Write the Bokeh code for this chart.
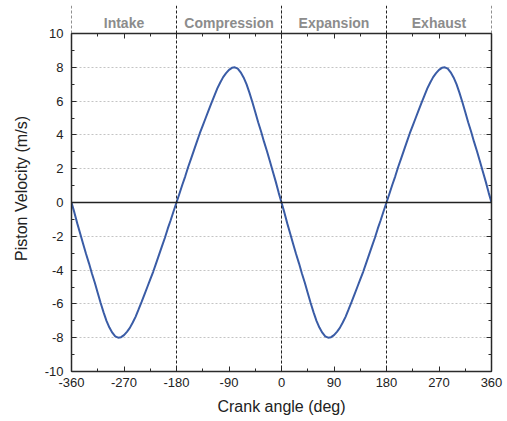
from bokeh.plotting import figure
from bokeh.models import (Range1d, LinearAxis, SingleIntervalTicker, FixedTicker,
                          Span, CustomJSTickFormatter)
from bokeh.core.properties import value
from bokeh.embed import file_html
from bokeh.resources import INLINE

# ---- data ----
stroke_names = ["Intake", "Compression", "Expansion", "Exhaust"]
stroke_centers = [-270, -90, 90, 270]
stroke_bounds = [-360, -180, 0, 180, 360]

# crank angle sampled every 5 deg
intake_angle = list(range(-360, -179, 5))      # -360 .. -180
compression_angle = list(range(-175, 1, 5))    # -175 .. 0
expansion_angle = list(range(5, 181, 5))       # 5 .. 180
exhaust_angle = list(range(185, 361, 5))       # 185 .. 360

intake_vel = [0, -0.6, -1.25, -1.85, -2.45, -3.05, -3.6, -4.2, -4.75, -5.35,
              -5.95, -6.5, -7.0, -7.4, -7.7, -7.92, -8.0, -7.97, -7.85, -7.65,
              -7.42, -7.1, -6.75, -6.33, -5.9, -5.45, -5.0, -4.55, -4.1, -3.6,
              -3.1, -2.6, -2.1, -1.55, -1.05, -0.52, 0]
compression_vel = [0.52, 1.05, 1.55, 2.1, 2.6, 3.1, 3.6, 4.1, 4.55, 5.0,
                   5.45, 5.9, 6.33, 6.75, 7.1, 7.42, 7.65, 7.85, 7.97, 8.0,
                   7.92, 7.7, 7.4, 7.0, 6.5, 5.95, 5.35, 4.75, 4.2, 3.6,
                   3.05, 2.45, 1.85, 1.25, 0.6, 0]
expansion_vel = [-0.6, -1.25, -1.85, -2.45, -3.05, -3.6, -4.2, -4.75, -5.35,
                 -5.95, -6.5, -7.0, -7.4, -7.7, -7.92, -8.0, -7.97, -7.85, -7.65,
                 -7.42, -7.1, -6.75, -6.33, -5.9, -5.45, -5.0, -4.55, -4.1, -3.6,
                 -3.1, -2.6, -2.1, -1.55, -1.05, -0.52, 0]
exhaust_vel = [0.52, 1.05, 1.55, 2.1, 2.6, 3.1, 3.6, 4.1, 4.55, 5.0,
               5.45, 5.9, 6.33, 6.75, 7.1, 7.42, 7.65, 7.85, 7.97, 8.0,
               7.92, 7.7, 7.4, 7.0, 6.5, 5.95, 5.35, 4.75, 4.2, 3.6,
               3.05, 2.45, 1.85, 1.25, 0.6, 0]

angle = intake_angle + compression_angle + expansion_angle + exhaust_angle
velocity = intake_vel + compression_vel + expansion_vel + exhaust_vel

FONT = "Liberation Sans"
EDGE = "#2b2b2b"
Y_MIN, Y_MAX = -10, 10
# extra headroom above the box for the stroke names (28 px of a 338 px box)
Y_TOP = Y_MAX + 28 * (Y_MAX - Y_MIN) / 338.0
NAME_Y = Y_MAX + 11 * (Y_MAX - Y_MIN) / 338.0

p = figure(width=507, height=421, x_range=Range1d(-360, 360),
           y_range=Range1d(Y_MIN, Y_TOP),
           output_backend="svg", toolbar_location=None,
           min_border_left=71, min_border_right=16,
           min_border_top=5, min_border_bottom=50)
p.outline_line_color = None

xt = SingleIntervalTicker(interval=90, num_minor_ticks=2)
yt = SingleIntervalTicker(interval=2, num_minor_ticks=2)
p.xaxis.ticker = xt
p.yaxis.ticker = yt
p.xgrid.ticker = xt
p.ygrid.ticker = yt
p.yaxis.bounds = (Y_MIN, Y_MAX)
p.xgrid.bounds = (Y_MIN, Y_MAX)

plain = CustomJSTickFormatter(code="return tick.toString();")
blank = CustomJSTickFormatter(code="return '';")

for ax in (p.xaxis[0], p.yaxis[0]):
    ax.formatter = plain
    ax.major_tick_in = 5
    ax.major_tick_out = 0
    ax.minor_tick_in = 3
    ax.minor_tick_out = 0
    ax.major_tick_line_color = EDGE
    ax.minor_tick_line_color = EDGE
    ax.axis_line_color = EDGE
    ax.axis_line_width = 1.5
    ax.major_label_text_font = FONT
    ax.major_label_text_font_size = "13px"
    ax.major_label_text_color = "#222222"
    ax.axis_label_text_font = FONT
    ax.axis_label_text_font_size = "16px"
    ax.axis_label_text_font_style = "normal"
    ax.axis_label_text_color = "#222222"

p.xaxis.axis_label = "Crank angle (deg)"
p.yaxis.axis_label = "Piston Velocity (m/s)"
p.xaxis.major_label_standoff = 6
p.xaxis.axis_label_standoff = 8
p.yaxis.major_label_standoff = 8
p.yaxis.axis_label_standoff = 12

# top edge of the box: an axis fixed at y = 10 with inward ticks
top_ax = LinearAxis(ticker=xt, formatter=blank, fixed_location=Y_MAX,
                    major_label_text_font_size="1px", major_label_standoff=0,
                    major_tick_in=5, major_tick_out=0,
                    minor_tick_in=3, minor_tick_out=0,
                    major_tick_line_color=EDGE, minor_tick_line_color=EDGE,
                    axis_line_color=EDGE, axis_line_width=1.5)
p.add_layout(top_ax, "above")

right_ax = LinearAxis(ticker=yt, formatter=blank, bounds=(Y_MIN, Y_MAX),
                      major_label_text_font_size="1px", major_label_standoff=0,
                      major_tick_in=5, major_tick_out=0,
                      minor_tick_in=3, minor_tick_out=0,
                      major_tick_line_color=EDGE, minor_tick_line_color=EDGE,
                      axis_line_color=EDGE, axis_line_width=1.5)
p.add_layout(right_ax, "right")

p.xgrid.grid_line_color = "#c4c4c4"
p.xgrid.grid_line_dash = "2 2"
p.ygrid.grid_line_color = "#c4c4c4"
p.ygrid.grid_line_dash = "2 2"

for b in stroke_bounds:
    p.add_layout(Span(location=b, dimension="height", line_color="#222222",
                      line_width=1, line_dash="3 2"))
p.add_layout(Span(location=0, dimension="width", line_color="#222222",
                  line_width=1.5))

p.text(x=stroke_centers, y=[NAME_Y] * 4, text=stroke_names,
       text_font=value(FONT), text_font_style="bold", text_font_size="14px",
       text_color="#8c8c8c", text_align="center", text_baseline="middle")

p.line(angle, velocity, line_color="#3a5ca6", line_width=2)

open("out.html", "w").write(file_html(p, INLINE))
